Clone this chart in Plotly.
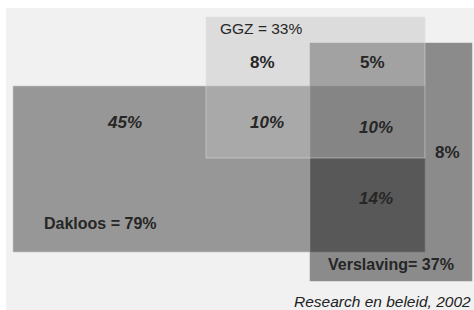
import plotly.graph_objects as go

# ---- data ----
set_names = ["Dakloos", "GGZ", "Verslaving"]
set_totals = [79, 33, 37]
region_names = ["Dakloos only", "GGZ only", "GGZ+Verslaving", "Dakloos+GGZ",
                "Dakloos+GGZ+Verslaving", "Verslaving only", "Dakloos+Verslaving"]
region_values = [45, 8, 5, 10, 10, 8, 14]
source_text = "Research en beleid, 2002"

# ---- layout geometry (chart units, y downward) ----
set_boxes = {
    "Dakloos": (13, 425, 86, 252),
    "GGZ": (206, 425, 17, 158),
    "Verslaving": (310, 472, 43, 281),
}
set_styles = {
    "Dakloos": dict(fill="#979797", line="rgba(200,200,200,0.6)"),
    "Verslaving": dict(fill="rgba(10,10,10,0.44)", line="rgba(150,150,150,0.5)"),
    "GGZ": dict(fill="rgba(193,193,193,0.43)", line="rgba(225,225,225,0.5)"),
}
draw_order = ["Dakloos", "Verslaving", "GGZ"]
region_pos = [(124, 122), (262, 62), (372, 62), (267, 122), (376, 127), (447, 152), (376, 198)]
region_italic = [True, False, False, True, True, False, True]
set_label_pos = {"Dakloos": (42, 223, "left"), "GGZ": (218, 28, "left"),
                 "Verslaving": (326, 264, "left")}

fig = go.Figure()

# panel background
fig.add_shape(type="rect", xref="x", yref="y", x0=6, x1=474, y0=8, y1=310,
              fillcolor="#f1f1f1", line=dict(width=0), layer="below")

for name in draw_order:
    x0, x1, y0, y1 = set_boxes[name]
    st = set_styles[name]
    fig.add_trace(go.Scatter(
        x=[x0, x1, x1, x0, x0], y=[y0, y0, y1, y1, y0],
        mode="lines", fill="toself", fillcolor=st["fill"],
        line=dict(color=st["line"], width=1), hoverinfo="skip", showlegend=False))

FONT = "Arial, Liberation Sans, sans-serif"
TXT = "#262626"

for val, (x, y), it in zip(region_values, region_pos, region_italic):
    t = f"<b>{val}%</b>"
    if it:
        t = f"<i>{t}</i>"
    fig.add_annotation(x=x, y=y, xref="x", yref="y", text=t, showarrow=False,
                       font=dict(family=FONT, size=17, color=TXT))

label_sizes = {"Dakloos": 16, "GGZ": 15.5, "Verslaving": 16}
for name, tot in zip(set_names, set_totals):
    x, y, anc = set_label_pos[name]
    if name == "GGZ":
        t = f"{name} = {tot}%"
    elif name == "Verslaving":
        t = f"<b>{name}= {tot}%</b>"
    else:
        t = f"<b>{name} = {tot}%</b>"
    fig.add_annotation(x=x, y=y, xref="x", yref="y", text=t, showarrow=False,
                       xanchor=anc, font=dict(family=FONT, size=label_sizes[name], color=TXT))

fig.add_annotation(x=473, y=301, xref="x", yref="y", text=f"<i>{source_text}</i>",
                   showarrow=False, xanchor="right",
                   font=dict(family=FONT, size=15.5, color="#222222"))

fig.update_layout(
    width=474, height=310, margin=dict(l=0, r=0, t=0, b=0),
    paper_bgcolor="white", plot_bgcolor="white",
    xaxis=dict(range=[0, 474], visible=False, fixedrange=True),
    yaxis=dict(range=[310, 0], visible=False, fixedrange=True),
    showlegend=False,
)

fig.write_html("out.html", config={"displayModeBar": False},
               post_script="document.body.style.margin='0px';document.body.style.overflow='hidden';")
